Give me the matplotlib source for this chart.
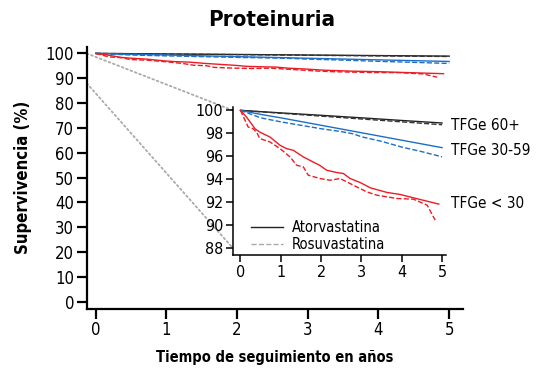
import matplotlib
matplotlib.use("Agg")
import matplotlib.pyplot as plt
from matplotlib.patches import ConnectionPatch
from matplotlib.lines import Line2D

plt.rcParams['font.family'] = ['DejaVu Sans']
plt.rcParams['font.stretch'] = 'condensed'

# survival curves (years, %)
t_blk_sol = [0, 1, 2, 3, 4, 5]
v_blk_sol = [100, 99.78, 99.57, 99.35, 99.12, 98.9]
t_blk_das = [0, 1, 2, 3, 4, 5]
v_blk_das = [100, 99.75, 99.5, 99.25, 99.0, 98.75]

t_blu_sol = [0, 0.5, 1, 2, 3, 4, 5]
v_blu_sol = [100, 99.65, 99.35, 98.7, 98.05, 97.4, 96.75]
t_blu_das = [0, 0.5, 1, 1.5, 2, 2.5, 2.8, 3.0, 3.5, 4, 4.5, 5]
v_blu_das = [100, 99.35, 99.0, 98.7, 98.4, 98.15, 97.95, 97.7, 97.3, 96.8, 96.4, 95.95]

t_red_sol = [0, 0.15, 0.36, 0.48, 0.73, 0.98, 1.14, 1.31, 1.56, 1.97, 2.14, 2.39, 2.55,
             2.72, 2.97, 3.22, 3.63, 3.96, 4.46, 4.92]
v_red_sol = [100, 99.42, 98.4, 98.1, 97.68, 96.96, 96.67, 96.52, 95.94, 95.2, 94.78, 94.58, 94.5,
             94.06, 93.71, 93.25, 92.85, 92.67, 92.23, 91.83]
t_red_das = [0, 0.19, 0.31, 0.4, 0.48, 0.73, 0.98, 1.23, 1.39, 1.56, 1.68, 1.97, 2.22, 2.47,
             2.8, 3.13, 3.38, 3.88, 4.29, 4.63, 4.83]
v_red_das = [100, 98.55, 98.4, 98.1, 97.54, 97.25, 96.67, 95.94, 95.22, 95.07, 94.35, 94.06, 93.91, 94.06,
             93.48, 92.9, 92.61, 92.32, 92.26, 91.74, 90.43]

groups = ["TFGe 60+", "TFGe 30-59", "TFGe < 30"]
label_y = [98.7, 96.5, 91.9]
drugs = ["Atorvastatina", "Rosuvastatina"]
zoom_y = [88, 100]

BLACK = "#222222"
BLUE = "#1c6fc6"
RED = "#ec1c24"

series = [
    (t_blk_sol, v_blk_sol, BLACK, "-"), (t_blk_das, v_blk_das, "#333333", "--"),
    (t_blu_sol, v_blu_sol, BLUE, "-"), (t_blu_das, v_blu_das, BLUE, "--"),
    (t_red_sol, v_red_sol, RED, "-"), (t_red_das, v_red_das, RED, "--"),
]

fig = plt.figure(figsize=(5.44, 3.70), dpi=100)
ax = fig.add_axes([0.1594, 0.1662, 0.6923, 0.7076])
ax_in = fig.add_axes([0.428, 0.311, 0.392, 0.40])

for a in (ax, ax_in):
    for t, v, c, ls in series:
        a.plot(t, v, color=c, ls=ls, lw=1.0)
    a.spines['top'].set_visible(False)
    a.spines['right'].set_visible(False)
    a.patch.set_visible(False)

# main axes
ax.set_xlim(-0.127, 5.2)
ax.set_ylim(-2.7, 102.7)
ax.set_xticks(range(0, 6))
ax.set_yticks(range(0, 101, 10))
for s in ('left', 'bottom'):
    ax.spines[s].set_linewidth(1.6)
ax.tick_params(width=1.6, length=7, labelsize=12, direction='out', pad=2)
ax.set_ylabel("Supervivencia (%)", fontsize=12, fontweight='bold', labelpad=10)
ax.set_xlabel("Tiempo de seguimiento en años", fontsize=10.5, fontweight='bold', labelpad=8)

# inset
ax_in.set_xlim(-0.19, 5.1)
ax_in.set_ylim(87.4, 100.3)
ax_in.set_xticks(range(0, 6))
ax_in.set_yticks(range(88, 101, 2))
for s in ('left', 'bottom'):
    ax_in.spines[s].set_linewidth(1.1)
ax_in.tick_params(width=1.1, length=5, labelsize=11.5, direction='out', pad=2)

for g, y in zip(groups, label_y):
    ax_in.text(5.23, y, g, fontsize=11, va='center', ha='left', clip_on=False)

handles = [Line2D([], [], color=BLACK, lw=1.0, ls='-'),
           Line2D([], [], color="#aaaaaa", lw=1.0, ls='--')]
ax_in.legend(handles, drugs, loc='lower left', bbox_to_anchor=(0.085, 0.02), frameon=False,
             fontsize=10.5, handlelength=2.2, handletextpad=0.6, labelspacing=0.15,
             borderpad=0, borderaxespad=0)

# dotted connectors from main to inset
for y in zoom_y:
    con = ConnectionPatch(xyA=(ax.get_xlim()[0], y), coordsA=ax.transData,
                          xyB=(ax_in.get_xlim()[0], y), coordsB=ax_in.transData,
                          color="#aaaaaa", ls=(0, (1, 1.6)), lw=1.3, zorder=-1)
    fig.add_artist(con)

fig.text(0.5, 0.945, "Proteinuria", ha='center', va='center', fontsize=16, fontweight='bold')

fig.savefig("out.png", dpi=100)
